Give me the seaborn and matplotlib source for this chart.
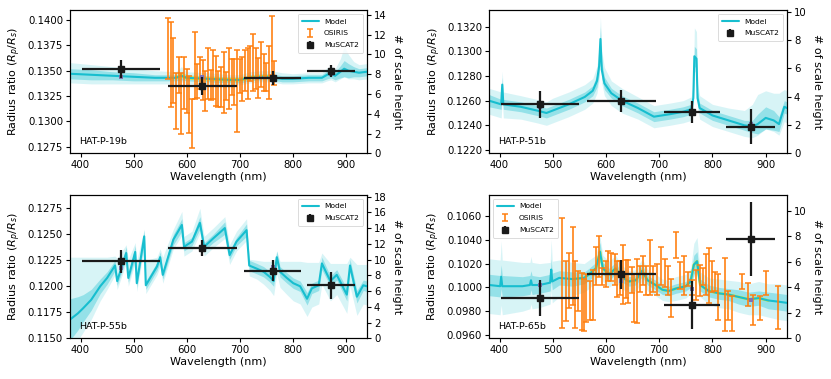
import numpy as np
import matplotlib
matplotlib.use("Agg")
import matplotlib.pyplot as plt
import seaborn as sns
from matplotlib.lines import Line2D
from matplotlib.ticker import MultipleLocator, FormatStrFormatter

sns.set_theme(style="ticks", rc={"text.color": "black", "axes.labelcolor": "black",
                                 "xtick.color": "black", "ytick.color": "black",
                                 "axes.edgecolor": "black"})
plt.rcParams['font.family'] = ['DejaVu Sans']
plt.rcParams['mathtext.fontset'] = 'dejavusans'

# =====================================================
# DATA
# =====================================================

# MuSCAT2 bands (same for every planet)
mus_wl = [476, 629, 762, 872]
mus_xerr = [73, 65, 53, 46]

# ---- HAT-P-19b ----
wl1 = [380, 420, 460, 500, 540, 580, 590, 600, 640, 680, 700, 720, 740, 760, 780, 800,
       830, 855, 865, 872, 880, 890, 897, 905, 915, 925, 940]
mod1 = [0.1347, 0.1346, 0.1345, 0.1344, 0.1343, 0.1343, 0.1345, 0.1343, 0.1342, 0.1341,
        0.1341, 0.1343, 0.1344, 0.1344, 0.1342, 0.1342, 0.1343, 0.1343, 0.1346, 0.1347,
        0.1345, 0.1349, 0.1352, 0.1350, 0.1349, 0.1348, 0.1349]
in1 = [0.0005, 0.0005, 0.0004, 0.0004, 0.0003, 0.0003, 0.0004, 0.0003, 0.0003, 0.0003,
       0.0003, 0.0003, 0.0003, 0.0003, 0.0003, 0.0003, 0.0003, 0.0003, 0.0004, 0.0004,
       0.0004, 0.0006, 0.0008, 0.0007, 0.0005, 0.0004, 0.0004]
oup1 = [0.0011, 0.0010, 0.0009, 0.0008, 0.0007, 0.0006, 0.0009, 0.0006, 0.0006, 0.0005,
        0.0005, 0.0006, 0.0006, 0.0006, 0.0006, 0.0005, 0.0005, 0.0005, 0.0007, 0.0007,
        0.0007, 0.0013, 0.0022, 0.0016, 0.0010, 0.0008, 0.0008]
odn1 = [0.0009, 0.0009, 0.0008, 0.0007, 0.0006, 0.0006, 0.0006, 0.0006, 0.0005, 0.0005,
        0.0005, 0.0005, 0.0005, 0.0005, 0.0005, 0.0005, 0.0005, 0.0005, 0.0006, 0.0006,
        0.0006, 0.0007, 0.0008, 0.0008, 0.0007, 0.0007, 0.0007]
mus1 = [0.1352, 0.1335, 0.1343, 0.1350]
mus1_err = [0.0009, 0.0009, 0.0007, 0.0006]
bin1 = [0.1344, 0.1344, 0.1343, 0.1347]

osi1_wl = [565, 570, 575, 580, 585, 590, 595, 600, 605, 610, 615, 620, 625, 630, 635, 640,
           645, 650, 655, 660, 665, 670, 675, 680, 685, 690, 695, 700, 705, 710, 715, 720,
           725, 730, 735, 740, 745, 750, 755, 760, 765]
osi1 = [0.1372, 0.1356, 0.1350, 0.1320, 0.1346, 0.1318, 0.1338, 0.1330, 0.1317, 0.1298,
        0.1355, 0.1340, 0.1348, 0.1341, 0.1330, 0.1347, 0.1336, 0.1346, 0.1340, 0.1332,
        0.1334, 0.1338, 0.1335, 0.1342, 0.1344, 0.1339, 0.1330, 0.1345, 0.1342, 0.1350,
        0.1347, 0.1357, 0.1358, 0.1352, 0.1343, 0.1356, 0.1348, 0.1344, 0.1348, 0.1375,
        0.1348]
osi1_err = [0.0030, 0.0042, 0.0032, 0.0028, 0.0018, 0.0030, 0.0026, 0.0022, 0.0028, 0.0024,
            0.0033, 0.0017, 0.0016, 0.0020, 0.0020, 0.0025, 0.0015, 0.0024, 0.0025, 0.0018,
            0.0020, 0.0030, 0.0014, 0.0030, 0.0018, 0.0023, 0.0040, 0.0017, 0.0022, 0.0020,
            0.0025, 0.0017, 0.0028, 0.0020, 0.0020, 0.0022, 0.0018, 0.0014, 0.0026, 0.0029,
            0.0012]

# ---- HAT-P-51b ----
wl2 = [380, 403, 405, 407, 440, 470, 488, 500, 530, 560, 575, 583, 587, 589.5, 592, 597,
       610, 630, 660, 690, 720, 745, 760, 764, 766, 770, 772, 776, 800, 830, 860, 875,
       885, 900, 915, 925, 935, 940]
mod2 = [0.1260, 0.1257, 0.1273, 0.1257, 0.1255, 0.1252, 0.1250, 0.1252, 0.1257, 0.1263,
        0.1268, 0.1276, 0.1288, 0.1310, 0.1285, 0.1274, 0.1266, 0.1260, 0.1254, 0.1247,
        0.1249, 0.1251, 0.1253, 0.1262, 0.1296, 0.1294, 0.1262, 0.1254, 0.1248, 0.1244,
        0.1240, 0.1239, 0.1241, 0.1246, 0.1244, 0.1241, 0.1255, 0.1254]
in2 = [0.0005, 0.0004, 0.0006, 0.0004, 0.0004, 0.0004, 0.0004, 0.0004, 0.0004, 0.0004,
       0.0004, 0.0005, 0.0007, 0.0010, 0.0007, 0.0005, 0.0004, 0.0004, 0.0004, 0.0004,
       0.0004, 0.0004, 0.0004, 0.0005, 0.0008, 0.0008, 0.0005, 0.0004, 0.0004, 0.0004,
       0.0004, 0.0005, 0.0008, 0.0009, 0.0008, 0.0006, 0.0005, 0.0005]
oup2 = [0.0010, 0.0010, 0.0011, 0.0010, 0.0009, 0.0009, 0.0009, 0.0010, 0.0010, 0.0010,
        0.0010, 0.0012, 0.0015, 0.0018, 0.0015, 0.0013, 0.0010, 0.0010, 0.0009, 0.0009,
        0.0009, 0.0009, 0.0010, 0.0012, 0.0023, 0.0022, 0.0012, 0.0010, 0.0009, 0.0010,
        0.0012, 0.0018, 0.0024, 0.0022, 0.0022, 0.0025, 0.0014, 0.0014]
odn2 = [0.0011, 0.0011, 0.0012, 0.0011, 0.0010, 0.0010, 0.0010, 0.0010, 0.0010, 0.0010,
        0.0010, 0.0010, 0.0011, 0.0012, 0.0011, 0.0010, 0.0010, 0.0010, 0.0009, 0.0009,
        0.0009, 0.0009, 0.0009, 0.0009, 0.0012, 0.0012, 0.0009, 0.0009, 0.0009, 0.0009,
        0.0009, 0.0009, 0.0009, 0.0009, 0.0009, 0.0009, 0.0012, 0.0012]
mus2 = [0.1257, 0.1260, 0.1251, 0.1239]
mus2_err = [0.0011, 0.0009, 0.0009, 0.0014]
bin2 = [0.1255, 0.1260, 0.1252, 0.1241]

# ---- HAT-P-55b ----
wl3 = [380, 395, 405, 420, 437, 450, 465, 469, 486, 490, 503, 506, 520, 523, 544, 550,
       555, 575, 591, 595, 610, 625, 633, 650, 672, 681, 694, 713, 718, 732, 745, 757,
       764, 770, 776, 789, 801, 814, 827, 836, 849, 855, 871, 883, 902, 908, 921, 933, 940]
mod3 = [0.1168, 0.1174, 0.1179, 0.1187, 0.1200, 0.1208, 0.1220, 0.1205, 0.1232, 0.1208,
        0.1233, 0.1203, 0.1248, 0.1201, 0.1219, 0.1228, 0.1211, 0.1245, 0.1259, 0.1238,
        0.1243, 0.1261, 0.1238, 0.1246, 0.1256, 0.1230, 0.1243, 0.1254, 0.1220, 0.1217,
        0.1214, 0.1209, 0.1205, 0.1228, 0.1214, 0.1208, 0.1203, 0.1200, 0.1188, 0.1198,
        0.1201, 0.1222, 0.1205, 0.1211, 0.1192, 0.1220, 0.1190, 0.1201, 0.1200]
in3 = [0.0020, 0.0016, 0.0013, 0.0010, 0.0007, 0.0006, 0.0005, 0.0004, 0.0006, 0.0004,
       0.0006, 0.0004, 0.0006, 0.0004, 0.0004, 0.0005, 0.0004, 0.0005, 0.0006, 0.0004,
       0.0004, 0.0006, 0.0004, 0.0004, 0.0006, 0.0004, 0.0004, 0.0006, 0.0005, 0.0005,
       0.0005, 0.0005, 0.0005, 0.0006, 0.0005, 0.0005, 0.0005, 0.0005, 0.0006, 0.0005,
       0.0005, 0.0006, 0.0005, 0.0005, 0.0006, 0.0006, 0.0006, 0.0005, 0.0005]
oup3 = [0.0060, 0.0054, 0.0049, 0.0041, 0.0028, 0.0020, 0.0009, 0.0022, 0.0008, 0.0018,
        0.0009, 0.0022, 0.0007, 0.0024, 0.0009, 0.0008, 0.0017, 0.0010, 0.0013, 0.0010,
        0.0010, 0.0014, 0.0010, 0.0010, 0.0011, 0.0010, 0.0010, 0.0011, 0.0006, 0.0008,
        0.0010, 0.0015, 0.0019, 0.0006, 0.0010, 0.0016, 0.0021, 0.0024, 0.0035, 0.0025,
        0.0022, 0.0010, 0.0017, 0.0011, 0.0030, 0.0008, 0.0031, 0.0020, 0.0021]
odn3 = [0.0030, 0.0026, 0.0023, 0.0019, 0.0014, 0.0011, 0.0009, 0.0008, 0.0010, 0.0008,
        0.0010, 0.0008, 0.0010, 0.0008, 0.0008, 0.0009, 0.0008, 0.0009, 0.0010, 0.0009,
        0.0009, 0.0010, 0.0009, 0.0009, 0.0010, 0.0009, 0.0009, 0.0010, 0.0010, 0.0010,
        0.0012, 0.0013, 0.0014, 0.0016, 0.0015, 0.0016, 0.0017, 0.0017, 0.0017, 0.0018,
        0.0018, 0.0020, 0.0019, 0.0019, 0.0018, 0.0020, 0.0018, 0.0018, 0.0018]
mus3 = [0.1224, 0.1237, 0.1215, 0.1201]
mus3_err = [0.0011, 0.0008, 0.0010, 0.0013]
bin3 = [0.1218, 0.1238, 0.1219, 0.1201]

# ---- HAT-P-65b ----
wl4 = [381, 401, 403, 405, 443, 457, 459, 461, 475, 495, 497, 499, 512, 537, 559, 568,
       581, 586, 588.5, 594, 606, 618, 628, 643, 656, 668, 678, 693, 706, 718, 731, 750,
       759, 765, 771, 777, 793, 812, 830, 849, 868, 887, 905, 924, 940]
mod4 = [0.1002, 0.1001, 0.1009, 0.1001, 0.1001, 0.1002, 0.1006, 0.1002, 0.1002, 0.1004,
        0.1015, 0.1005, 0.1008, 0.1007, 0.1008, 0.1011, 0.1016, 0.1025, 0.1030, 0.1016,
        0.1011, 0.1016, 0.1009, 0.1005, 0.1006, 0.1014, 0.1006, 0.1002, 0.0998, 0.0997,
        0.0999, 0.1001, 0.1005, 0.1019, 0.1022, 0.1002, 0.0997, 0.0995, 0.0994, 0.0992,
        0.0990, 0.0991, 0.0989, 0.0988, 0.0987]
in4 = [0.0009, 0.0009, 0.0010, 0.0009, 0.0008, 0.0008, 0.0008, 0.0008, 0.0007, 0.0007,
       0.0009, 0.0007, 0.0006, 0.0006, 0.0005, 0.0005, 0.0005, 0.0007, 0.0008, 0.0005,
       0.0005, 0.0005, 0.0004, 0.0004, 0.0004, 0.0005, 0.0004, 0.0004, 0.0004, 0.0004,
       0.0004, 0.0004, 0.0005, 0.0008, 0.0008, 0.0005, 0.0005, 0.0005, 0.0005, 0.0006,
       0.0006, 0.0006, 0.0007, 0.0007, 0.0007]
oup4 = [0.0022, 0.0022, 0.0030, 0.0022, 0.0020, 0.0019, 0.0020, 0.0019, 0.0018, 0.0017,
        0.0025, 0.0017, 0.0015, 0.0014, 0.0012, 0.0012, 0.0011, 0.0013, 0.0013, 0.0011,
        0.0011, 0.0011, 0.0010, 0.0009, 0.0009, 0.0010, 0.0009, 0.0009, 0.0009, 0.0009,
        0.0010, 0.0010, 0.0011, 0.0018, 0.0020, 0.0011, 0.0011, 0.0012, 0.0012, 0.0013,
        0.0013, 0.0014, 0.0014, 0.0015, 0.0015]
odn4 = [0.0024, 0.0024, 0.0024, 0.0024, 0.0021, 0.0020, 0.0020, 0.0020, 0.0019, 0.0018,
        0.0018, 0.0018, 0.0016, 0.0014, 0.0012, 0.0012, 0.0011, 0.0011, 0.0011, 0.0011,
        0.0011, 0.0011, 0.0010, 0.0009, 0.0009, 0.0009, 0.0009, 0.0009, 0.0009, 0.0009,
        0.0010, 0.0010, 0.0010, 0.0010, 0.0010, 0.0010, 0.0011, 0.0012, 0.0012, 0.0013,
        0.0013, 0.0014, 0.0014, 0.0015, 0.0015]
mus4 = [0.0991, 0.1011, 0.0985, 0.1041]
mus4_err = [0.0015, 0.0012, 0.0020, 0.0031]
bin4 = [0.1002, 0.1005, 0.0999, 0.0989]

osi4_wl = [518, 525, 531, 537, 541, 548, 554, 558, 563, 570, 576, 581, 587, 593, 600, 604,
           610, 617, 621, 626, 632, 637, 642, 648, 652, 658, 663, 670, 676, 682, 689, 695,
           703, 710, 717, 723, 732, 739, 747, 754, 762, 770, 776, 782, 788, 793, 799, 804,
           811, 823, 829, 836, 856, 867, 876, 890, 901, 923]
osi4 = [0.1012, 0.0997, 0.1006, 0.1018, 0.0994, 0.0997, 0.0988, 0.0985, 0.0991, 0.0989,
        0.0994, 0.1018, 0.1026, 0.1009, 0.1011, 0.1018, 0.1017, 0.1015, 0.1007, 0.1008,
        0.1011, 0.1007, 0.1005, 0.1006, 0.0991, 0.0997, 0.1007, 0.1014, 0.1006, 0.1017,
        0.1007, 0.1007, 0.1018, 0.1012, 0.1006, 0.0991, 0.1036, 0.1010, 0.1010, 0.1007,
        0.1000, 0.1002, 0.1006, 0.1009, 0.1011, 0.1010, 0.1009, 0.1005, 0.0992, 0.0994,
        0.0985, 0.0978, 0.1005, 0.0994, 0.0981, 0.0983, 0.1004, 0.0983]
osi4_err = [0.0046, 0.0025, 0.0023, 0.0033, 0.0028, 0.0017, 0.0024, 0.0022, 0.0020, 0.0016,
            0.0021, 0.0016, 0.0017, 0.0007, 0.0011, 0.0013, 0.0012, 0.0013, 0.0015, 0.0014,
            0.0025, 0.0016, 0.0018, 0.0011, 0.0020, 0.0027, 0.0011, 0.0012, 0.0012, 0.0023,
            0.0011, 0.0013, 0.0016, 0.0012, 0.0012, 0.0016, 0.0011, 0.0011, 0.0016, 0.0006,
            0.0006, 0.0013, 0.0013, 0.0007, 0.0017, 0.0023, 0.0013, 0.0008, 0.0019, 0.0031,
            0.0012, 0.0015, 0.0006, 0.0010, 0.0013, 0.0010, 0.0010, 0.0018]

# =====================================================
# STYLE
# =====================================================

CYAN = "#17becf"
ORANGE = "#ff7f0e"
FS_TICK = 7.3
FS_LAB = 8.0


def panel(ax, wl, mod, inw, oup, odn, mus, mus_err, binned, name,
          ylim, ystep, rlim, osi=None, loc="upper right", ylw=2.4):
    wl = np.array(wl)
    mod = np.array(mod)
    inw = np.array(inw)
    ax.fill_between(wl, mod - np.array(odn), mod + np.array(oup),
                    color=CYAN, alpha=0.17, lw=0, zorder=1)
    ax.fill_between(wl, mod - inw, mod + inw, color=CYAN, alpha=0.35, lw=0, zorder=2)
    sns.lineplot(x=wl, y=mod, ax=ax, color=CYAN, lw=1.5, zorder=4, estimator=None,
                 sort=False)

    handles = [Line2D([], [], color=CYAN, lw=1.5)]
    labels = ["Model"]

    if osi is not None:
        owl, oy, oerr = osi
        sel = (wl >= owl[0]) & (wl <= owl[-1])
        ax.plot(wl[sel], mod[sel], color="#e8e820", lw=ylw, zorder=3)
        eb = ax.errorbar(owl, oy, yerr=oerr, fmt="none", ecolor=ORANGE, elinewidth=1.3,
                         capsize=2.4, capthick=1.2, alpha=0.9, zorder=5)
        handles.append(eb)
        labels.append("OSIRIS")

    ax.scatter(mus_wl, binned, s=9, color="m", marker="s", zorder=6, lw=0)
    mb = ax.errorbar(mus_wl, mus, xerr=mus_xerr, yerr=mus_err, fmt="s", color="k",
                     ms=4.2, elinewidth=1.6, capsize=0, zorder=7)
    handles.append(mb)
    labels.append("MuSCAT2")

    ax.set_xlim(380, 940)
    ax.set_ylim(*ylim)
    ax.yaxis.set_major_locator(MultipleLocator(ystep))
    ax.yaxis.set_major_formatter(FormatStrFormatter("%.4f"))
    ax.xaxis.set_major_locator(MultipleLocator(100))
    ax.set_xlabel("Wavelength (nm)", fontsize=FS_LAB, labelpad=1)
    ax.set_ylabel(r"Radius ratio ($R_p/R_s$)", fontsize=FS_LAB, labelpad=3)
    ax.tick_params(labelsize=FS_TICK, length=3, width=0.8, pad=2)
    ax.text(0.03, 0.05, name, transform=ax.transAxes, fontsize=6.8, ha="left",
            va="bottom")
    leg = ax.legend(handles, labels, loc=loc, fontsize=5.4, frameon=True,
                    handlelength=2.2, borderpad=0.6, labelspacing=0.75,
                    handletextpad=0.7, fancybox=True)
    leg.get_frame().set_linewidth(0.6)

    ax2 = ax.twinx()
    ax2.set_ylim(*rlim)
    ax2.yaxis.set_major_locator(MultipleLocator(2))
    ax2.set_ylabel("# of scale height", fontsize=FS_LAB, rotation=270, labelpad=11)
    ax2.tick_params(labelsize=FS_TICK, length=3, width=0.8, pad=2)
    for sp in list(ax.spines.values()) + list(ax2.spines.values()):
        sp.set_linewidth(0.8)


fig = plt.figure(figsize=(8.31, 3.79), dpi=100)
ax1 = fig.add_axes([0.0842, 0.5955, 0.3574, 0.3781])
ax2 = fig.add_axes([0.5884, 0.5955, 0.3586, 0.3781])
ax3 = fig.add_axes([0.0842, 0.1074, 0.3574, 0.3781])
ax4 = fig.add_axes([0.5884, 0.1074, 0.3586, 0.3781])

panel(ax1, wl1, mod1, in1, oup1, odn1, mus1, mus1_err, bin1, "HAT-P-19b",
      (0.12685, 0.14099), 0.0025, (0, 14.5), osi=(osi1_wl, osi1, osi1_err))
panel(ax2, wl2, mod2, in2, oup2, odn2, mus2, mus2_err, bin2, "HAT-P-51b",
      (0.12173, 0.13335), 0.0020, (0, 10.12))
panel(ax3, wl3, mod3, in3, oup3, odn3, mus3, mus3_err, bin3, "HAT-P-55b",
      (0.1150, 0.12878), 0.0025, (0, 18.2))
panel(ax4, wl4, mod4, in4, oup4, odn4, mus4, mus4_err, bin4, "HAT-P-65b",
      (0.09572, 0.10777), 0.0020, (0, 11.25), osi=(osi4_wl, osi4, osi4_err),
      loc="upper left", ylw=1.9)

fig.savefig("out.png", dpi=100)
